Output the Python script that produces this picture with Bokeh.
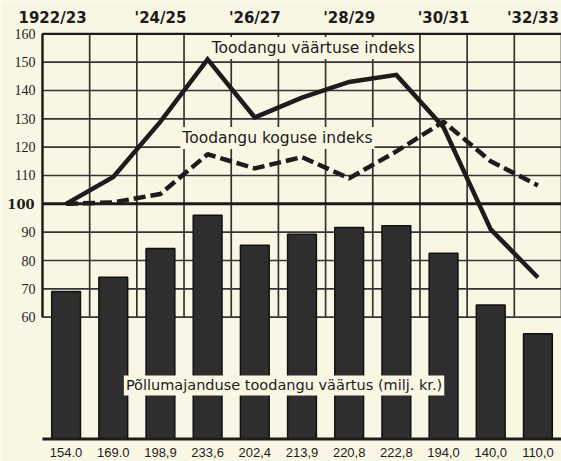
from bokeh.plotting import figure
from bokeh.models import ColumnDataSource, Label
from bokeh.core.properties import value
from bokeh.embed import file_html
from bokeh.resources import INLINE

# ---------------- data ----------------
seasons = ["1922/23", "1923/24", "1924/25", "1925/26", "1926/27", "1927/28",
           "1928/29", "1929/30", "1930/31", "1931/32", "1932/33"]
value_index = [100, 109.5, 129, 151, 130.5, 137.5, 143, 145.5, 127, 91, 74]
volume_index = [100, 100.5, 103.5, 117.5, 112.5, 116.5, 109, 118.5, 129, 115, 106.5]
production_value = [154.0, 169.0, 198.9, 233.6, 202.4, 213.9, 220.8, 222.8, 194.0, 140.0, 110.0]
value_labels = ["154.0", "169.0", "198,9", "233,6", "202,4", "213,9",
                "220,8", "222,8", "194,0", "140,0", "110,0"]
top_labels = ["1922/23", "'24/25", "'26/27", "'28/29", "'30/31", "'32/33"]
y_ticks = [60, 70, 80, 90, 100, 110, 120, 130, 140, 150, 160]

# ---------------- style ----------------
BG = "#f9f6e4"
INK = "#1c1c1c"
GRID = "#343434"
bar_base = 17.0      # index level where the bars start
bar_scale = 0.338    # index points per million kroon

n = len(seasons)
xs = list(range(n))
edges = [i - 0.5 for i in range(n + 1)]
left = edges[0]

p = figure(width=561, height=461, output_backend="svg", toolbar_location=None,
           x_range=(-1.39, 10.5), y_range=(9.08, 171.75),
           x_axis_location=None, y_axis_location=None,
           min_border_left=0, min_border_right=0, min_border_top=0, min_border_bottom=0)
p.background_fill_color = BG
p.border_fill_color = BG
p.outline_line_color = None
p.grid.visible = False

# grid
p.segment(x0=edges, y0=[y_ticks[0]] * len(edges), x1=edges, y1=[y_ticks[-1]] * len(edges),
          line_color=GRID, line_width=1.7)
p.segment(x0=[left] * len(y_ticks), y0=y_ticks, x1=[edges[-1]] * len(y_ticks), y1=y_ticks,
          line_color=GRID, line_width=1.7)
p.segment(x0=[left], y0=[100], x1=[edges[-1]], y1=[100], line_color=INK, line_width=3)
p.segment(x0=[left], y0=[y_ticks[-1]], x1=[edges[-1]], y1=[y_ticks[-1]], line_color=INK, line_width=2.2)
# axis line
p.segment(x0=[left], y0=[y_ticks[0]], x1=[left], y1=[y_ticks[-1]], line_color=INK, line_width=2.2)

# bars
bar_src = ColumnDataSource(dict(
    x=xs,
    top=[bar_base + v * bar_scale for v in production_value],
    bottom=[bar_base] * n,
))
p.vbar(x="x", top="top", bottom="bottom", width=0.61, source=bar_src,
       fill_color="#2e2e2e", line_color="#111111", line_width=1.5)
p.segment(x0=[left], y0=[bar_base], x1=[edges[-1]], y1=[bar_base], line_color=INK, line_width=3)

# index lines
p.line(xs, volume_index, line_color=INK, line_width=4.5, line_dash="12 5")
p.line(xs, value_index, line_color=INK, line_width=4.5, line_join="miter")

# top season labels
top_font = dict(text_font=value("DejaVu Sans"), text_font_style="bold", text_font_size="15px",
                text_baseline="middle", text_color=INK)
p.text(x=[left], y=[165.4], text=top_labels[:1], x_offset=-24, text_align="left", **top_font)
top_src = ColumnDataSource(dict(
    x=xs[2::2], y=[165.4] * (len(top_labels) - 1), text=top_labels[1:],
    dx=[0, 0, 0, 0, -5],
))
p.text(x="x", y="y", text="text", x_offset="dx", source=top_src, text_align="center", **top_font)

# bottom value labels
bot_src = ColumnDataSource(dict(x=xs, y=[12.4] * n, text=value_labels))
p.text(x="x", y="y", text="text", source=bot_src,
       text_font=value("Liberation Sans"), text_font_size="13px",
       text_align="center", text_baseline="middle", text_color=INK)

# y tick labels (100 emphasised)
tick_src = ColumnDataSource(dict(
    x=[left] * (len(y_ticks) - 1), y=[t for t in y_ticks if t != 100],
    text=[str(t) for t in y_ticks if t != 100],
))
p.text(x="x", y="y", text="text", source=tick_src, x_offset=-7,
       text_font=value("Liberation Serif"), text_font_size="14px",
       text_align="right", text_baseline="middle", text_color=INK)
p.text(x=[left], y=[100], text=["100"], x_offset=-8,
       text_font=value("DejaVu Serif"), text_font_style="bold", text_font_size="13px",
       text_align="right", text_baseline="middle", text_color=INK)

# series annotations
p.add_layout(Label(x=5.24, y=155, text="Toodangu väärtuse indeks", text_align="center",
                   text_baseline="middle", text_font="DejaVu Sans", text_font_size="15.5px",
                   text_color=INK, background_fill_color=BG, padding=2))
p.add_layout(Label(x=4.48, y=123.2, text="Toodangu koguse indeks", text_align="center",
                   text_baseline="middle", text_font="DejaVu Sans", text_font_size="15.5px",
                   text_color=INK, background_fill_color=BG, padding=2))
p.add_layout(Label(x=4.62, y=35.9, text="Põllumajanduse toodangu väärtus (milj. kr.)",
                   text_align="center", text_baseline="middle", text_font="DejaVu Sans",
                   text_font_size="14.5px", text_color=INK, background_fill_color=BG, padding=2))

open("out.html", "w").write(file_html(p, INLINE))
